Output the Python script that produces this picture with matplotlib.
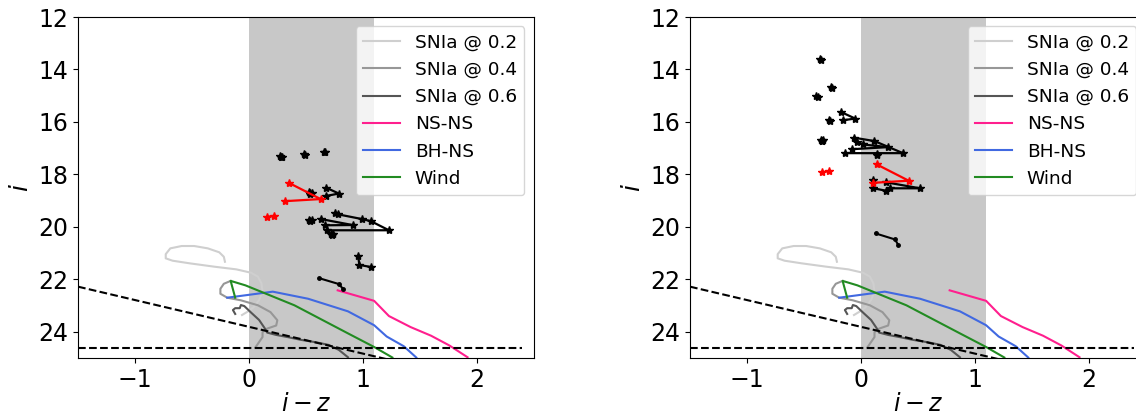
import numpy as np
import matplotlib
matplotlib.use('Agg')
import matplotlib.pyplot as plt

# model tracks (same in both panels): i-z colour, i magnitude
snia02_x = [-0.21, -0.22, -0.26, -0.36, -0.48, -0.59, -0.69, -0.73, -0.73, -0.67, -0.52, -0.30,
            -0.11, 0.02, 0.08, 0.11, 0.12, 0.09, 0.04, -0.01, -0.06]
snia02_y = [21.33, 21.14, 20.97, 20.82, 20.73, 20.73, 20.82, 21.04, 21.20, 21.29, 21.39, 21.52,
            21.62, 21.75, 21.90, 22.15, 22.47, 22.79, 23.07, 23.23, 23.36]
snia04_x = [-0.16, -0.22, -0.25, -0.25, -0.19, -0.07, 0.08, 0.19, 0.25, 0.24, 0.16, 0.12, 0.12,
            0.09, 0.06]
snia04_y = [22.06, 22.17, 22.36, 22.55, 22.70, 22.80, 22.99, 23.25, 23.56, 23.76, 23.88, 24.01,
            24.20, 24.39, 24.58]
snia06_x = [-0.12, -0.14, -0.12, -0.08, -0.07, -0.04, 0.02, 0.09, 0.14, 0.16, 0.24, 0.35, 0.46,
            0.59, 0.70, 0.79, 0.87]
snia06_y = [23.32, 23.17, 23.10, 23.10, 22.98, 23.02, 23.27, 23.55, 23.87, 24.03, 24.12, 24.21,
            24.31, 24.40, 24.50, 24.69, 24.97]
nsns_x = [0.78, 1.10, 1.23, 1.42, 1.60, 1.76, 1.92]
nsns_y = [22.42, 22.82, 23.40, 23.82, 24.15, 24.52, 24.97]
bhns_x = [-0.19, 0.21, 0.52, 0.87, 1.10, 1.21, 1.36, 1.47]
bhns_y = [22.70, 22.47, 22.74, 23.22, 23.75, 24.18, 24.55, 24.98]
wind_x = [-0.12, -0.16, -0.03, 0.40, 0.87, 1.10, 1.26]
wind_y = [22.70, 22.06, 22.23, 22.99, 24.06, 24.58, 24.98]

# limits
depth_i = 24.6
depth_xmax = 2.4
slope_x = [-1.5, 2.5]
slope_y = [22.28, 26.36]
shade_lo, shade_hi = 0.0, 1.1

# observed candidates, left panel
left_black = [
    [(0.27, 17.31), (0.28, 17.35), (0.29, 17.34)],
    [(0.48, 17.22), (0.49, 17.25)],
    [(0.66, 17.13), (0.67, 17.16)],
    [(0.53, 18.68), (0.54, 18.72), (0.55, 18.70), (0.54, 18.76)],
    [(0.68, 18.51), (0.79, 18.73), (0.68, 18.82)],
    [(0.53, 19.73), (0.54, 19.77), (0.55, 19.75)],
    [(0.76, 19.47), (0.78, 19.52), (0.99, 19.70), (1.07, 19.78), (1.23, 20.13), (0.69, 20.13)],
    [(0.63, 19.70), (0.91, 19.93), (0.67, 19.94)],
    [(0.72, 20.26), (0.73, 20.30), (0.74, 20.28)],
    [(0.96, 21.12), (0.97, 21.45), (1.07, 21.53)],
]
left_red = [
    [(0.35, 18.32), (0.63, 18.94), (0.32, 19.02)],
    [(0.16, 19.62), (0.22, 19.58)],
]
left_dots = [(0.62, 21.96), (0.79, 22.18), (0.83, 22.38)]

# observed candidates, right panel
right_black = [
    [(-0.36, 13.60), (-0.35, 13.65)],
    [(-0.26, 14.68), (-0.25, 14.72)],
    [(-0.39, 15.02), (-0.38, 15.05)],
    [(-0.28, 15.94), (-0.27, 15.98)],
    [(-0.35, 16.67), (-0.34, 16.71), (-0.33, 16.69), (-0.34, 16.74)],
    [(-0.17, 15.63), (-0.05, 15.87), (-0.16, 15.94)],
    [(-0.06, 16.60), (0.12, 16.73), (0.37, 17.19), (-0.14, 17.19)],
    [(-0.03, 16.76), (0.02, 16.86), (0.24, 16.96), (-0.08, 17.04)],
    [(0.14, 17.21), (0.14, 17.25)],
    [(0.11, 18.20), (0.11, 18.53), (0.22, 18.62), (0.26, 18.53), (0.52, 18.53), (0.22, 18.30)],
]
right_red = [
    [(0.14, 17.62), (0.42, 18.24), (0.11, 18.32)],
    [(-0.34, 17.92), (-0.28, 17.87)],
]
right_dots = [(0.13, 20.25), (0.30, 20.48), (0.33, 20.70)]

models = [
    (snia02_x, snia02_y, '#cfcfcf', 'SNIa @ 0.2'),
    (snia04_x, snia04_y, '#979797', 'SNIa @ 0.4'),
    (snia06_x, snia06_y, '#555555', 'SNIa @ 0.6'),
    (nsns_x, nsns_y, '#ff1f8e', 'NS-NS'),
    (bhns_x, bhns_y, '#4169e1', 'BH-NS'),
    (wind_x, wind_y, '#228b22', 'Wind'),
]


def draw_panel(ax, black, red, dots):
    ax.axvspan(shade_lo, shade_hi, color='#c8c8c8', lw=0, zorder=0)
    for x, y, c, lab in models:
        ax.plot(x, y, color=c, lw=1.5, label=lab)
    ax.plot([-1.5, depth_xmax], [depth_i, depth_i], 'k--', lw=1.5)
    ax.plot(slope_x, slope_y, 'k--', lw=1.5)
    for tr in black:
        tr = np.array(tr)
        ax.plot(tr[:, 0], tr[:, 1], 'k-*', lw=1.6, ms=6)
    for tr in red:
        tr = np.array(tr)
        ax.plot(tr[:, 0], tr[:, 1], '-*', color='red', lw=1.6, ms=6)
    d = np.array(dots)
    ax.plot(d[:, 0], d[:, 1], 'k.-', lw=1.5, ms=5)
    ax.set_xlim(-1.5, 2.5)
    ax.set_ylim(25, 12)
    ax.set_xticks([-1, 0, 1, 2])
    ax.set_yticks([12, 14, 16, 18, 20, 22, 24])
    ax.tick_params(labelsize=17)
    ax.set_xlabel('$i - z$', fontsize=17, labelpad=0)
    ax.set_ylabel('$i$', fontsize=18)
    ax.legend(loc='upper right', fontsize=13.3)


fig = plt.figure(figsize=(11.36, 4.15), dpi=100)
ax1 = fig.add_axes([0.0687, 0.1373, 0.401, 0.8217])
ax2 = fig.add_axes([0.6074, 0.1373, 0.401, 0.8217])
draw_panel(ax1, left_black, left_red, left_dots)
draw_panel(ax2, right_black, right_red, right_dots)
fig.savefig('out.png', dpi=100)
